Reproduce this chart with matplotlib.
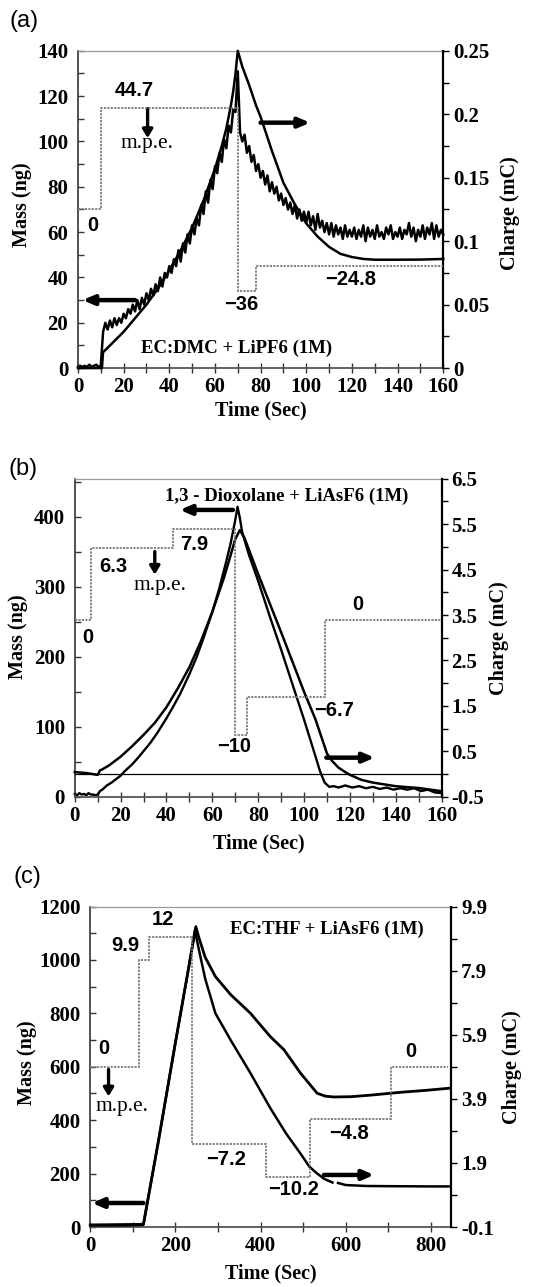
import numpy as np
import matplotlib.pyplot as plt
from matplotlib import ticker

plt.rcParams['font.family'] = 'Liberation Serif'
plt.rcParams['font.weight'] = 'bold'
plt.rcParams['axes.unicode_minus'] = False

SANS = 'Liberation Sans'
STEP_STYLE = dict(color='#7a7a7a', lw=1.3, ls=(0, (1.2, 0.7)))
TICK_SIZE = 15

# ---------- (a) EC:DMC + LiPF6 (1M) ----------
t_a = list(range(161))
mass_a = [0.5, 1, 0.5, 1, 0.5, 1.5, 0.5, 1, 1.5, 0.5, 1,
          16, 20, 17, 21, 18, 22, 19, 22, 20, 24,
          22, 26, 24, 28, 25, 30, 26, 31, 28, 33,
          30, 35, 32, 37, 34, 40, 36, 42, 40, 45,
          42, 48, 45, 52, 47, 55, 51, 59, 55, 63,
          59, 66, 63, 72, 68, 78, 73, 83, 79, 89,
          86, 95, 91, 101, 97, 107, 104, 114, 113, 131,
          104, 100, 103, 95, 98, 91, 94, 87, 90, 84,
          87, 81, 85, 78, 82, 77, 80, 74, 77, 72,
          75, 70, 73, 68, 72, 66, 70, 65, 69, 64,
          69, 63, 67, 61, 68, 62, 65, 60, 64, 59,
          64, 58, 63, 59, 62, 57, 63, 58, 61, 58,
          62, 57, 61, 58, 63, 56, 62, 58, 61, 57,
          63, 58, 60, 57, 62, 59, 63, 57, 60, 58,
          62, 57, 61, 59, 64, 58, 62, 56, 61, 58,
          63, 57, 62, 59, 64, 57, 63, 58, 61, 59]
t_charge_a = [0, 10.5, 11, 13, 15, 20, 25, 30, 35, 40, 45, 50, 55, 60, 63, 65,
              67, 68, 69, 70, 72, 75, 78, 80, 85, 90, 95, 100, 105, 110, 115,
              120, 125, 130, 140, 150, 160]
charge_a = [0, 0, 0.0125, 0.016, 0.0196, 0.0286, 0.0393, 0.05, 0.0625, 0.0768,
            0.0929, 0.1107, 0.132, 0.157, 0.175, 0.189, 0.207, 0.218, 0.232,
            0.25, 0.2375, 0.223, 0.207, 0.198, 0.171, 0.146, 0.129, 0.114,
            0.1036, 0.0955, 0.090, 0.0875, 0.086, 0.0854, 0.0854, 0.0855, 0.086]
t_step_a = [0, 10, 70, 78, 160]
step_a = [0, 44.7, -36, -24.8]
step_pos_a = [(6.4, 63), (24.5, 122.7), (71.7, 28), (119.5, 38.9)]

# ---------- (b) 1,3-Dioxolane + LiAsF6 (1M) ----------
t_mass_b = [0, 1, 2, 3, 4, 5, 6, 7, 8, 9, 10, 11, 12, 14, 16, 18, 20, 22, 25,
            28, 30, 33, 36, 40, 43, 46, 50, 53, 56, 60, 63, 66, 68, 70, 71, 72,
            73, 76, 80, 85, 90, 95, 100, 104, 107, 109, 111, 113, 115, 118,
            121, 124, 127, 130, 133, 136, 139, 142, 145, 148, 151, 154, 157, 160]
mass_b = [4, 2, 5, 3, 4, 2, 5, 3, 3, 2, 3, 8, 10, 16, 20, 25, 30, 37, 46,
          57, 65, 77, 91, 112, 129, 147, 175, 198, 225, 264, 297, 335, 362,
          395, 414, 398, 378, 345, 308, 258, 210, 160, 110, 68, 36, 20, 14,
          15, 13, 16, 13, 15, 12, 14, 11, 13, 10, 12, 10, 12, 8, 10, 6, 5]
t_charge_b = [0, 5, 10, 11, 12, 15, 20, 25, 30, 35, 40, 45, 50, 55, 60, 65,
              68, 70, 72, 74, 80, 90, 100, 105, 110, 112, 115, 118, 120, 125,
              130, 140, 150, 160]
charge_b = [0.04, 0.02, -0.02, 0.08, 0.1, 0.19, 0.38, 0.61, 0.86, 1.13, 1.47,
            1.89, 2.35, 2.92, 3.57, 4.31, 4.82, 5.17, 5.37, 5.2, 4.40, 3.12,
            1.81, 1.2, 0.45, 0.3, 0.14, 0.04, -0.02, -0.13, -0.19, -0.27,
            -0.31, -0.38]
t_step_b = [0, 7, 43, 70, 75, 109, 160]
step_b = [0, 6.3, 7.9, -10, -6.7, 0]
step_pos_b = [(5.8, 228), (16.7, 328), (52, 360), (69.7, 71), (113.3, 123),
              (123.5, 274)]

# ---------- (c) EC:THF + LiAsF6 (1M) ----------
t_mass_c = [0, 60, 120, 125, 160, 200, 230, 248, 255, 270, 294, 330, 376,
            423, 455, 494, 533, 552, 572, 612, 660, 725, 790, 845]
mass_c = [8, 9, 10, 12, 320, 690, 960, 1125, 1085, 1010, 938, 870, 801,
          713, 664, 576, 501, 490, 487, 488, 494, 504, 512, 520]
t_charge_c = [0, 60, 120, 125, 160, 200, 230, 246, 255, 270, 294, 330, 376,
              423, 460, 494, 515, 533, 550, 569, np.nan, 582, 600, 650, 700,
              800, 845]
charge_c = [-0.05, -0.05, -0.04, -0.03, 2.57, 5.65, 7.9, 9.15, 8.57, 7.65,
            6.57, 5.73, 4.71, 3.61, 2.82, 2.19, 1.78, 1.57, 1.40, 1.29, np.nan,
            1.275, 1.21, 1.18, 1.175, 1.167, 1.167]
t_step_c = [0, 115, 137, 240, 413, 516, 706, 840]
step_c = [0, 9.9, 12, -7.2, -10.2, -4.8, 0]
step_pos_c = [(33, 667), (82, 1056), (171, 1150), (318, 252), (477, 140),
              (608, 352), (753, 657)]

fig = plt.figure(figsize=(5.34, 12.87), dpi=100)


def make_panel(rect, xlim, xmaj, xmin, ylim, ymaj, ymin, y2lim, y2major,
               y2minor, steplim):
    ax = fig.add_axes(rect)
    ax2 = ax.twinx()
    ax3 = ax.twinx()
    ax3.set_axis_off()
    ax3.set_ylim(*steplim)
    ax.set_xlim(*xlim)
    ax.set_ylim(*ylim)
    ax2.set_ylim(*y2lim)
    ax.xaxis.set_major_locator(ticker.MultipleLocator(xmaj))
    ax.xaxis.set_minor_locator(ticker.MultipleLocator(xmin))
    ax.yaxis.set_major_locator(ticker.MultipleLocator(ymaj))
    ax.yaxis.set_minor_locator(ticker.MultipleLocator(ymin))
    ax2.yaxis.set_major_locator(ticker.FixedLocator(y2major))
    ax2.yaxis.set_minor_locator(ticker.FixedLocator(y2minor))
    ax2.yaxis.set_major_formatter(ticker.FormatStrFormatter('%g'))
    ax.tick_params(axis='x', which='both', direction='inout', length=7,
                   width=1, labelsize=TICK_SIZE, pad=3, color='#333')
    ax.tick_params(axis='y', which='both', direction='in', length=4,
                   width=1, labelsize=TICK_SIZE, pad=7, color='#333')
    ax2.tick_params(axis='y', which='both', direction='out', length=4,
                    width=1, labelsize=TICK_SIZE, pad=3)
    for name in ('top', 'left', 'bottom'):
        ax2.spines[name].set_visible(False)
    ax.spines['right'].set_visible(False)
    ax2.spines['right'].set_linewidth(1.6)
    ax.spines['left'].set_color('#333')
    ax.spines['left'].set_linewidth(1.2)
    ax.spines['bottom'].set_color('#555')
    ax.spines['bottom'].set_linewidth(1.3)
    ax.spines['top'].set_color('#999')
    ax.spines['top'].set_linewidth(0.9)
    return ax, ax2, ax3


def arrow(ax, tail, head, lw=3.2, hl=0.65, hw=0.28):
    ax.annotate('', xy=head, xytext=tail,
                arrowprops=dict(arrowstyle=f'-|>,head_length={hl},head_width={hw}',
                                lw=lw, color='black', shrinkA=0, shrinkB=0),
                annotation_clip=False)


def step_labels(ax, values, positions):
    for v, (x, y) in zip(values, positions):
        ax.text(x, y, f'{v:g}'.replace('-', '\u2212'), family=SANS,
                fontsize=14.5, fontweight='bold', ha='center', va='center')


def labels(ax_rect_px, mass_y, charge_x, charge_y, time_y, mass_x):
    x0, x1 = ax_rect_px
    fig.text(mass_x / 534, 1 - mass_y / 1287, 'Mass (ng)', rotation=90,
             fontsize=14.5, ha='center', va='center')
    fig.text(charge_x / 534, 1 - charge_y / 1287, 'Charge (mC)', rotation=90,
             fontsize=14.5, ha='center', va='center')
    fig.text((x0 + x1) / 2 / 534, 1 - time_y / 1287, 'Time (Sec)',
             fontsize=14.5, ha='center', va='center')


# ----- panel (a) -----
ax, ax2, ax3 = make_panel([0.146, 0.714, 0.684, 0.2465], (0, 160), 20, 10,
                          (0, 140), 20, 10, (0, 0.25),
                          np.arange(0, 0.26, 0.05), np.arange(0, 0.26, 0.025),
                          (-70, 70))
ax3.stairs(step_a, t_step_a, baseline=None, **STEP_STYLE)
ax.plot(t_a, mass_a, color='black', lw=1.8, clip_on=False)
ax2.plot(t_charge_a, charge_a, color='black', lw=1.8, clip_on=False)
step_labels(ax, step_a, step_pos_a)
ax.text(30.1, 99, 'm.p.e.', fontsize=15.5, fontweight='normal',
        ha='center', va='center')
ax.text(69.5, 8.8, 'EC:DMC + LiPF6 (1M)', fontsize=13.5,
        ha='center', va='center')
arrow(ax, (30.5, 114.5), (30.5, 101.5), lw=2.4, hl=0.5, hw=0.3)
arrow(ax, (25, 30), (2, 30))
arrow(ax, (80, 108.3), (101.7, 108.3))
labels((78, 443), 205, 510, 213, 410, 22)
fig.text(24 / 534, 1 - 21 / 1287, '(a)', family=SANS, fontsize=17,
         fontweight='normal', ha='center', va='center')

# ----- panel (b) -----
ax, ax2, ax3 = make_panel([0.140, 0.381, 0.687, 0.247], (0, 160), 20, 10,
                          (0, 454), 100, 50, (-0.5, 6.5),
                          np.arange(-0.5, 6.6, 1.0), np.arange(-0.5, 6.6, 0.5),
                          (-15.4, 12.3))
ax3.stairs(step_b, t_step_b, baseline=None, **STEP_STYLE)
ax2.axhline(0, color='black', lw=0.9)
ax.plot(t_mass_b, mass_b, color='black', lw=1.7, clip_on=False)
ax2.plot(t_charge_b, charge_b, color='black', lw=1.8, clip_on=False)
step_labels(ax, step_b, step_pos_b)
ax.text(37, 302, 'm.p.e.', fontsize=15.5, fontweight='normal',
        ha='center', va='center')
ax.text(92.6, 429.6, '1,3 - Dioxolane + LiAsF6 (1M)', fontsize=13.5,
        ha='center', va='center')
arrow(ax, (34.9, 350), (34.9, 317), lw=2.4, hl=0.5, hw=0.3)
arrow(ax, (69, 409.5), (45.8, 409.5))
arrow(ax, (109.7, 55.7), (130.8, 55.7))
labels((75, 442), 637, 499, 638, 843, 18)
fig.text(23 / 534, 1 - 469 / 1287, '(b)', family=SANS, fontsize=17,
         fontweight='normal', ha='center', va='center')

# ----- panel (c) -----
ax, ax2, ax3 = make_panel([0.169, 0.0466, 0.676, 0.249], (0, 848), 200, 100,
                          (0, 1200), 200, 100, (-0.1, 9.9),
                          [-0.1, 1.9, 3.9, 5.9, 7.9, 9.9],
                          np.arange(-0.1, 9.95, 1.0), (-14.85, 14.85))
ax3.stairs(step_c, t_step_c, baseline=None, **STEP_STYLE)
ax.plot(t_mass_c, mass_c, color='black', lw=2.0, clip_on=False)
ax2.plot(t_charge_c, charge_c, color='black', lw=1.8, clip_on=False)
step_labels(ax, step_c, step_pos_c)
ax.text(74, 451, 'm.p.e.', fontsize=15.5, fontweight='normal',
        ha='center', va='center')
ax.text(557, 1113, 'EC:THF + LiAsF6 (1M)', fontsize=13.5,
        ha='center', va='center')
arrow(ax, (43, 590), (43, 489), lw=2.4, hl=0.5, hw=0.3)
arrow(ax, (125, 90), (4, 90))
arrow(ax, (549, 195), (667, 195))
labels((90, 451), 1063, 512, 1067, 1273, 27)
fig.text(27 / 534, 1 - 877 / 1287, '(c)', family=SANS, fontsize=17,
         fontweight='normal', ha='center', va='center')

fig.savefig('out.png', dpi=100)
